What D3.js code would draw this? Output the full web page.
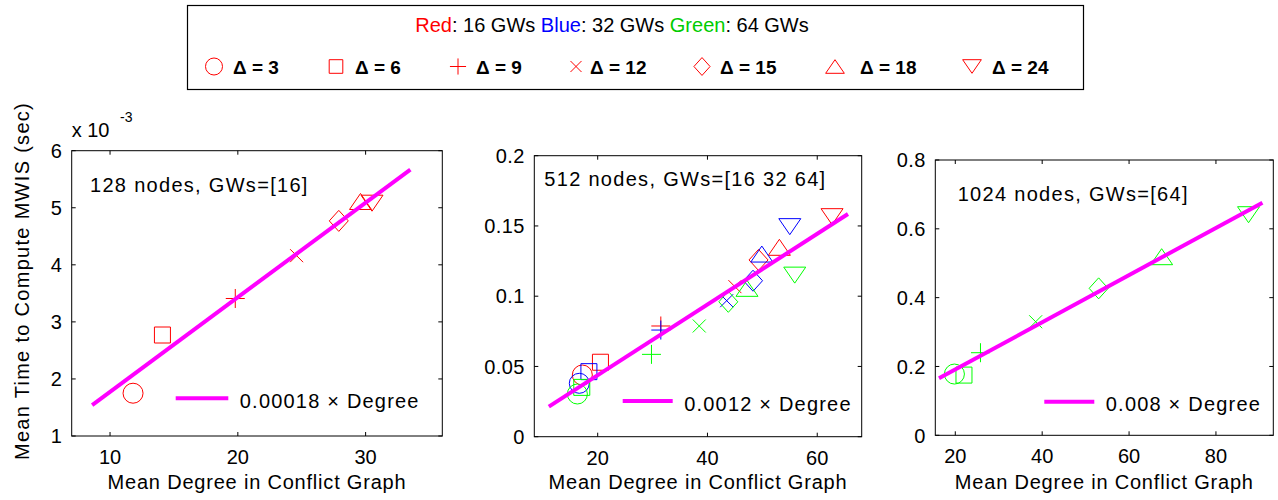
<!DOCTYPE html>
<html>
<head>
<meta charset="utf-8">
<script src="https://cdn.jsdelivr.net/npm/d3@7"></script>
<style>
body { margin: 0; background: #fff; }
svg text { font-family: "Liberation Sans", Arial, Helvetica, sans-serif; fill: #000; }
</style>
</head>
<body>
<svg id="chart" width="1278" height="500"></svg>
<script>
/***************************************************************************************************
MWIS compute time vs mean conflict graph degree, three network sizes
***************************************************************************************************/

// marker order / legend labels (same order in every series array below)
var deltas = [3, 6, 9, 12, 15, 18, 24];
var markerKinds = ['circle', 'square', 'plus', 'x', 'diamond', 'triUp', 'triDown'];

// 128 nodes, GWs = [16]
var p1RedX = [11.8, 14.1, 19.8, 24.6, 27.9, 29.6, 30.5];
var p1RedY = [0.00175, 0.00277, 0.00341, 0.00416, 0.00477, 0.00511, 0.00508];
var p1FitX = [8.6, 33.5];
var p1FitY = [0.00154, 0.00567];
var p1XTicks = [10, 20, 30];
var p1YTicks = [0.001, 0.002, 0.003, 0.004, 0.005, 0.006];

// 512 nodes, GWs = [16 32 64]
var p2RedX = [17.2, 20.5, 31.5, 45.0, 49.3, 53.1, 62.7];
var p2RedY = [0.0439, 0.053, 0.0788, 0.1068, 0.1258, 0.1348, 0.1566];
var p2BlueX = [16.65, 18.4, 31.5, 43.5, 48.3, 49.9, 55.0];
var p2BlueY = [0.038, 0.0463, 0.0759, 0.0968, 0.111, 0.130, 0.1495];
var p2GreenX = [16.3, 17.1, 29.8, 38.5, 43.8, 47.2, 55.9];
var p2GreenY = [0.0304, 0.0351, 0.0586, 0.0788, 0.096, 0.1056, 0.115];
var p2FitX = [11.1, 65.6];
var p2FitY = [0.0214, 0.1585];
var p2XTicks = [20, 40, 60];
var p2YTicks = [0, 0.05, 0.1, 0.15, 0.2];

// 1024 nodes, GWs = [64]
var p3GreenX = [19.8, 22.0, 25.8, 38.5, 53.0, 67.5, 87.5];
var p3GreenY = [0.178, 0.175, 0.240, 0.330, 0.427, 0.519, 0.641];
var p3FitX = [16.25, 90.7];
var p3FitY = [0.1656, 0.676];
var p3XTicks = [20, 40, 60, 80];
var p3YTicks = [0, 0.2, 0.4, 0.6, 0.8];

var RED = '#ff0000', BLUE = '#0000ff', GREEN = '#00ff00', FIT = '#ff00ff';

(function () {

var svg = d3.select('#chart');

// matlab style outline markers, s scales the whole glyph
function markerPath(kind, s) {
	var p = d3.path();
	var h;
	switch (kind) {
	case 'circle':
		p.arc(0, 0, 10 * s, 0, 2 * Math.PI);
		break;
	case 'square':
		h = 8 * s;
		p.rect(-h, -h, 2 * h, 2 * h);
		break;
	case 'plus':
		h = 9.5 * s;
		p.moveTo(-h, 0); p.lineTo(h, 0);
		p.moveTo(0, -h); p.lineTo(0, h);
		break;
	case 'x':
		h = 6.5 * s;
		p.moveTo(-h, -h); p.lineTo(h, h);
		p.moveTo(-h, h); p.lineTo(h, -h);
		break;
	case 'diamond':
		p.moveTo(0, -10.5 * s); p.lineTo(9.5 * s, 0);
		p.lineTo(0, 10.5 * s); p.lineTo(-9.5 * s, 0); p.closePath();
		break;
	case 'triUp':
		p.moveTo(0, -8 * s); p.lineTo(11 * s, 8 * s);
		p.lineTo(-11 * s, 8 * s); p.closePath();
		break;
	case 'triDown':
		p.moveTo(0, 8 * s); p.lineTo(11 * s, -8 * s);
		p.lineTo(-11 * s, -8 * s); p.closePath();
		break;
	}
	return p.toString();
}

function zipSeries(xs, ys, color) {
	return xs.map(function (x, i) {
		return {x: x, y: ys[i], kind: markerKinds[i], color: color};
	});
}

function drawPanel(cfg) {
	var x = d3.scaleLinear().domain(cfg.xDomain).range([cfg.left, cfg.right]);
	var y = d3.scaleLinear().domain(cfg.yDomain).range([cfg.bottom, cfg.top]);
	var g = svg.append('g');
	var tl = 4;

	// frame
	g.append('rect')
		.attr('x', cfg.left).attr('y', cfg.top)
		.attr('width', cfg.right - cfg.left).attr('height', cfg.bottom - cfg.top)
		.attr('fill', 'none').attr('stroke', '#000').attr('stroke-width', 1);

	// inward ticks on all four sides
	cfg.xTicks.forEach(function (v) {
		g.append('line').attr('x1', x(v)).attr('x2', x(v))
			.attr('y1', cfg.bottom).attr('y2', cfg.bottom - tl).attr('stroke', '#000');
		g.append('line').attr('x1', x(v)).attr('x2', x(v))
			.attr('y1', cfg.top).attr('y2', cfg.top + tl).attr('stroke', '#000');
		g.append('text').attr('x', x(v)).attr('y', cfg.bottom + 28)
			.attr('text-anchor', 'middle').style('font-size', '20px').text(v);
	});
	cfg.yTicks.forEach(function (v) {
		g.append('line').attr('x1', cfg.left).attr('x2', cfg.left + tl)
			.attr('y1', y(v)).attr('y2', y(v)).attr('stroke', '#000');
		g.append('line').attr('x1', cfg.right).attr('x2', cfg.right - tl)
			.attr('y1', y(v)).attr('y2', y(v)).attr('stroke', '#000');
		g.append('text').attr('x', cfg.left - 9.5).attr('y', y(v)).attr('dy', '0.36em')
			.attr('text-anchor', 'end').style('font-size', '20px').style('letter-spacing', '0.4px')
			.text(cfg.yFormat(v));
	});

	// x label
	g.append('text').attr('x', (cfg.left + cfg.right) / 2).attr('y', 489)
		.attr('text-anchor', 'middle').style('font-size', '20px').style('letter-spacing', '0.8px')
		.text('Mean Degree in Conflict Graph');

	// panel annotation
	g.append('text').attr('x', cfg.note[0]).attr('y', cfg.note[1])
		.style('font-size', '20px').style('letter-spacing', '1.3px').text(cfg.noteText);

	// markers
	g.selectAll('.pt').data(cfg.points).enter().append('path')
		.attr('class', 'pt')
		.attr('transform', function (d) { return 'translate(' + x(d.x) + ',' + y(d.y) + ')'; })
		.attr('d', function (d) { return markerPath(d.kind, 1); })
		.attr('fill', 'none').attr('stroke', function (d) { return d.color; }).attr('stroke-width', 1);

	// fitted line, drawn over the markers
	var line = d3.line().x(function (d) { return x(d[0]); }).y(function (d) { return y(d[1]); });
	g.append('path')
		.datum(cfg.fitX.map(function (v, i) { return [v, cfg.fitY[i]]; }))
		.attr('d', line).attr('fill', 'none').attr('stroke', FIT).attr('stroke-width', 4);

	// fit legend inside the axes
	var ly = cfg.legend[2];
	g.append('line').attr('x1', cfg.legend[0]).attr('x2', cfg.legend[1])
		.attr('y1', ly).attr('y2', ly).attr('stroke', FIT).attr('stroke-width', 4);
	g.append('text').attr('x', cfg.legend[1] + 11.5).attr('y', ly + 9.5)
		.style('font-size', '20px').style('letter-spacing', '1.2px').text(cfg.fitText);

	return g;
}

drawPanel({
	left: 71.7, right: 442.3, top: 150.7, bottom: 436,
	xDomain: [7, 36], yDomain: [0.001, 0.006],
	xTicks: p1XTicks, yTicks: p1YTicks,
	yFormat: function (v) { return Math.round(v * 1000); },
	note: [90, 192], noteText: '128 nodes, GWs=[16]',
	fitX: p1FitX, fitY: p1FitY,
	points: zipSeries(p1RedX, p1RedY, RED),
	legend: [175.7, 228.3, 398.3], fitText: '0.00018 \u00d7 Degree'
});

drawPanel({
	left: 534.3, right: 861.7, top: 155.7, bottom: 436.7,
	xDomain: [8.45, 68.1], yDomain: [0, 0.2],
	xTicks: p2XTicks, yTicks: p2YTicks,
	yFormat: function (v) { return String(v); },
	note: [544.3, 186], noteText: '512 nodes, GWs=[16 32 64]',
	fitX: p2FitX, fitY: p2FitY,
	points: zipSeries(p2RedX, p2RedY, RED)
		.concat(zipSeries(p2BlueX, p2BlueY, BLUE))
		.concat(zipSeries(p2GreenX, p2GreenY, GREEN)),
	legend: [622.7, 672.7, 401], fitText: '0.0012 \u00d7 Degree'
});

drawPanel({
	left: 935.3, right: 1273.3, top: 160, bottom: 435.3,
	xDomain: [15.4, 93.2], yDomain: [0, 0.8],
	xTicks: p3XTicks, yTicks: p3YTicks,
	yFormat: function (v) { return String(v); },
	note: [957.7, 201], noteText: '1024 nodes, GWs=[64]',
	fitX: p3FitX, fitY: p3FitY,
	points: zipSeries(p3GreenX, p3GreenY, GREEN),
	legend: [1044.3, 1094.3, 401.7], fitText: '0.008 \u00d7 Degree'
});

// y label and exponent (first panel only)
svg.append('text').attr('transform', 'translate(29,281) rotate(-90)')
	.attr('text-anchor', 'middle').style('font-size', '20px').style('letter-spacing', '1.3px')
	.text('Mean Time to Compute MWIS (sec)');
var expo = svg.append('text').attr('x', 71.7).attr('y', 136.7).style('font-size', '20px');
expo.append('tspan').text('x 10');
expo.append('tspan').attr('x', 120).attr('y', 121.7).style('font-size', '14px').text('-3');

// top legend box
svg.append('rect').attr('x', 187.5).attr('y', 5.5).attr('width', 896).attr('height', 84)
	.attr('fill', '#fff').attr('stroke', '#000').attr('stroke-width', 1.2);

var title = svg.append('text').attr('x', 612).attr('y', 32).attr('text-anchor', 'middle')
	.style('font-size', '20px');
[['Red', RED], [': 16 GWs ', '#000'], ['Blue', BLUE], [': 32 GWs ', '#000'],
 ['Green', '#00cc00'], [': 64 GWs', '#000']].forEach(function (t) {
	title.append('tspan').style('fill', t[1]).text(t[0]);
});

// one legend marker per delta
var legMarkX = [214, 336, 458, 576, 702, 835, 972];
var legTextX = [233, 355, 476, 590, 720, 860, 992];
deltas.forEach(function (dv, i) {
	svg.append('path').attr('transform', 'translate(' + legMarkX[i] + ',66.5)')
		.attr('d', markerPath(markerKinds[i], 0.85))
		.attr('fill', 'none').attr('stroke', RED).attr('stroke-width', 1);
	svg.append('text').attr('x', legTextX[i]).attr('y', 74)
		.style('font-size', '19px').style('font-weight', 'bold')
		.text('\u0394 = ' + dv);
});

})();
</script>
</body>
</html>
